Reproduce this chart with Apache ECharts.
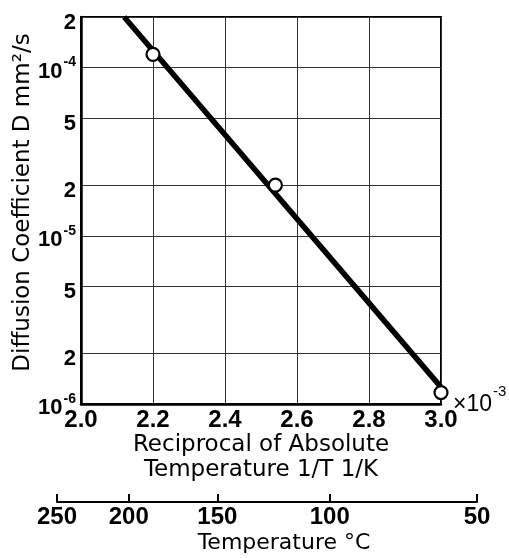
<!DOCTYPE html>
<html><head><meta charset="utf-8">
<script src="https://cdn.jsdelivr.net/npm/echarts@6/dist/echarts.min.js"></script>
<style>html,body{margin:0;padding:0;background:#fff}#chart{width:509px;height:558px}</style>
</head><body><div id="chart"></div>
<script>
// measured points: reciprocal absolute temperature (x10^-3 1/K) vs diffusion coefficient (mm²/s)
const invT = [2.2, 2.54, 3.0];
const diffusion = [1.2e-4, 2.0e-5, 1.17e-6];
// end points of the fitted Arrhenius line
const fitInvT = [2.12, 3.0];
const fitD = [2.0e-4, 1.26e-6];
// logarithmic D axis ticks and their labels
const yTickValues = [1e-6, 2e-6, 5e-6, 1e-5, 2e-5, 5e-5, 1e-4, 2e-4];
const yTickLabels = ['{p|10}{e|-6}', '{n|2}', '{n|5}', '{p|10}{e|-5}', '{n|2}', '{n|5}', '{p|10}{e|-4}', '{n|2}'];
// secondary Celsius scale ticks
const tempTicksC = [250, 200, 150, 100, 50];

const NUM_FONT = '"Liberation Sans", Arial, sans-serif';
const TXT_FONT = '"DejaVu Sans", sans-serif';
const toInvT = c => 1000 / (c + 273.15);
const yLog = yTickValues.map(v => Math.log10(v));

const chart = echarts.init(document.getElementById('chart'), null, {renderer: 'canvas'});
chart.setOption({
  animation: false,
  backgroundColor: '#fff',
  grid: [
    {left: 81, right: 68, top: 17, bottom: 154, show: true, borderColor: '#000', borderWidth: 2,
     backgroundColor: 'transparent', containLabel: false, outerBoundsMode: 'none'},
    {left: 57, right: 32, top: 501, height: 1, containLabel: false, outerBoundsMode: 'none'}
  ],
  xAxis: [
    {
      gridIndex: 0, type: 'value', min: 2.0, max: 3.0, interval: 0.2,
      axisLine: {show: true, lineStyle: {color: '#000', width: 2.5}},
      axisTick: {show: false},
      splitLine: {show: true, lineStyle: {color: '#333', width: 1}},
      axisLabel: {
        margin: 4, color: '#000', fontFamily: NUM_FONT, fontWeight: 'bold', fontSize: 24,
        formatter: v => v.toFixed(1), showMinLabel: true, showMaxLabel: true
      },
      name: 'Reciprocal of Absolute\nTemperature 1/T 1/K',
      nameLocation: 'middle', nameGap: 29, nameMoveOverlap: false,
      nameTextStyle: {color: '#000', fontFamily: TXT_FONT, fontSize: 23, lineHeight: 25}
    },
    {
      gridIndex: 1, type: 'value', position: 'bottom',
      min: toInvT(tempTicksC[0]), max: toInvT(tempTicksC[tempTicksC.length - 1]),
      axisLine: {show: true, lineStyle: {color: '#000', width: 2}},
      axisTick: {show: true, inside: true, length: 8, lineStyle: {color: '#000', width: 2},
                 customValues: tempTicksC.map(toInvT)},
      splitLine: {show: false},
      axisLabel: {
        margin: 3, color: '#000', fontFamily: NUM_FONT, fontWeight: 'bold', fontSize: 24,
        customValues: tempTicksC.map(toInvT),
        formatter: v => String(Math.round(1000 / v - 273.15)),
        showMinLabel: true, showMaxLabel: true
      },
      name: 'Temperature °C',
      nameLocation: 'middle', nameGap: 30, nameMoveOverlap: false,
      nameTextStyle: {color: '#000', fontFamily: TXT_FONT, fontSize: 22, padding: [0, 0, 0, 34]}
    }
  ],
  yAxis: [
    {
      gridIndex: 0, type: 'value', min: -6, max: Math.log10(2e-4),
      axisLine: {show: true, lineStyle: {color: '#000', width: 2.5}},
      axisTick: {show: false, customValues: yLog},
      splitLine: {show: true, lineStyle: {color: '#333', width: 1}},
      axisLabel: {
        margin: 5, color: '#000', customValues: yLog,
        showMinLabel: true, showMaxLabel: true,
        formatter: v => {
          let best = 0;
          yLog.forEach((t, i) => { if (Math.abs(t - v) < Math.abs(yLog[best] - v)) best = i; });
          return yTickLabels[best];
        },
        rich: {
          n: {fontFamily: NUM_FONT, fontWeight: 'bold', fontSize: 22, color: '#000', lineHeight: 22, padding: [11, 0, 0, 0]},
          p: {fontFamily: NUM_FONT, fontWeight: 'bold', fontSize: 22, color: '#000', lineHeight: 30,
              padding: [6, 0, 0, 0], verticalAlign: 'bottom'},
          e: {fontFamily: NUM_FONT, fontWeight: 'bold', fontSize: 14, color: '#000', lineHeight: 14,
              padding: [3, 0, 0, 1], verticalAlign: 'top'}
        }
      },
      name: 'Diffusion Coefficient D mm²/s',
      nameLocation: 'middle', nameGap: 46, nameMoveOverlap: false,
      nameTextStyle: {color: '#000', fontFamily: TXT_FONT, fontSize: 23, padding: [0, 0, 0, 16]}
    },
    {gridIndex: 1, type: 'value', show: false}
  ],
  graphic: [
    {
      type: 'text', left: 453, top: 384, silent: true,
      style: {
        text: '{a|×10}{b|-3}',
        rich: {
          a: {fontFamily: NUM_FONT, fontSize: 23, fill: '#000', lineHeight: 32, verticalAlign: 'bottom'},
          b: {fontFamily: NUM_FONT, fontSize: 15, fill: '#000', lineHeight: 15, padding: [0, 0, 0, 1], verticalAlign: 'top'}
        }
      }
    }
  ],
  series: [
    {
      type: 'line', xAxisIndex: 0, yAxisIndex: 0,
      data: fitInvT.map((x, i) => [x, Math.log10(fitD[i])]),
      symbol: 'none', clip: true,
      lineStyle: {color: '#000', width: 5.5}, z: 2
    },
    {
      type: 'scatter', xAxisIndex: 0, yAxisIndex: 0,
      data: invT.map((x, i) => [x, Math.log10(diffusion[i])]),
      symbol: 'circle', symbolSize: 13, clip: false,
      itemStyle: {color: '#fff', borderColor: '#000', borderWidth: 2.2, opacity: 1}, z: 3
    }
  ]
});
</script>
</body></html>
